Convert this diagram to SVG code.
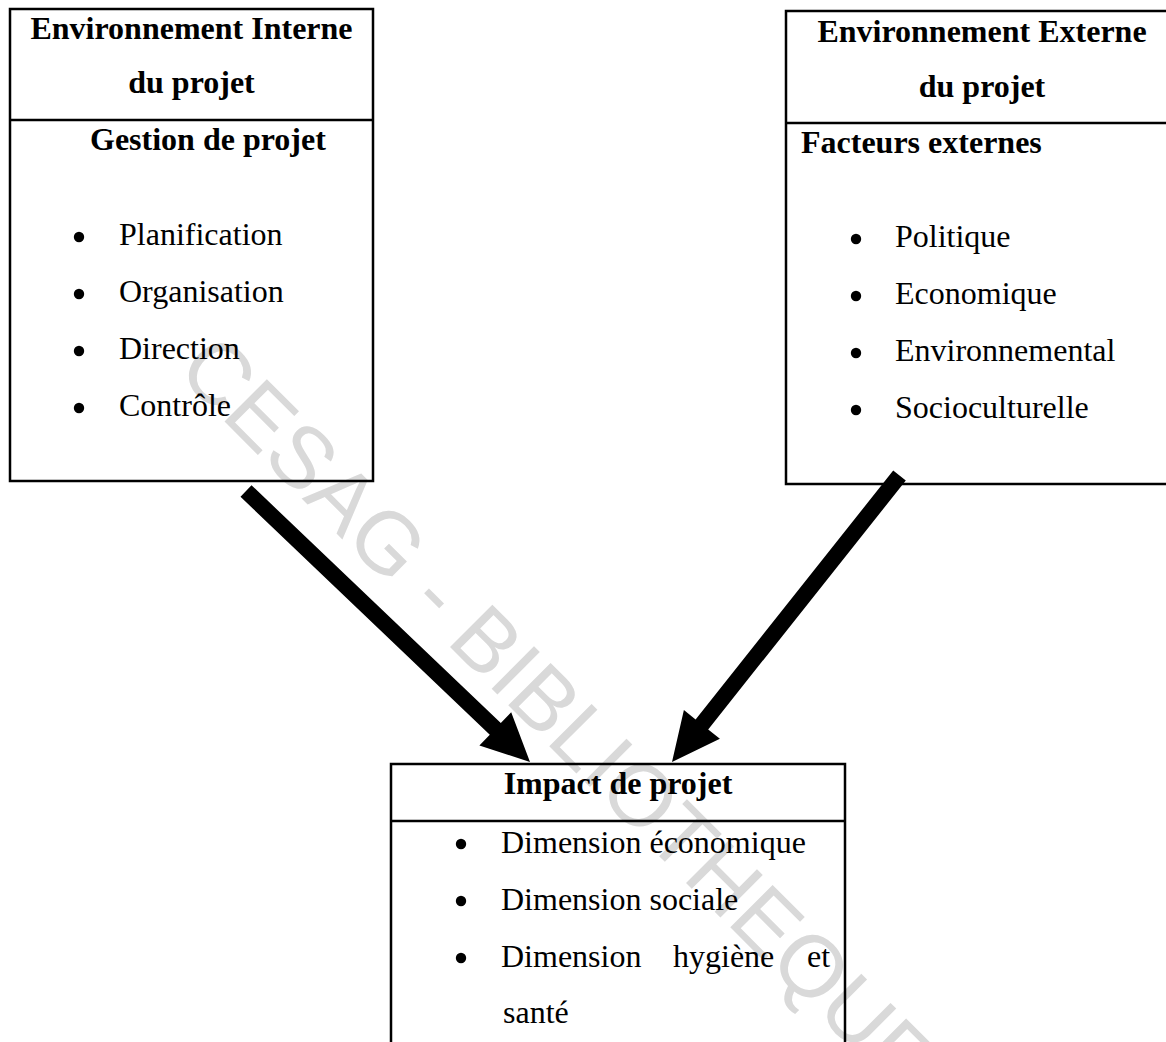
<svg xmlns="http://www.w3.org/2000/svg" width="1166" height="1042" viewBox="0 0 1166 1042">
<style>
.box{fill:none;stroke:#000;stroke-width:2.5}
.b{font-family:"Liberation Serif","Times New Roman",serif;font-size:32px;font-weight:bold;fill:#000}
.r{font-family:"Liberation Serif","Times New Roman",serif;font-size:32px;fill:#000}
.c{text-anchor:middle}
.dot{fill:#000}
.arrow{fill:#000;stroke:none}
.wm{font-family:"Liberation Sans",Arial,sans-serif;font-size:87px;fill:#d9d9d9}
</style>
<rect width="1166" height="1042" fill="#fff"/>
<text class="wm" transform="translate(175,372) rotate(45)">CESAG - BIBLIOTHEQUE</text>
<g id="interne">
<rect class="box" x="10" y="9" width="363" height="472"/>
<line class="box" x1="10" y1="120" x2="373" y2="120"/>
<text class="b c" x="191.5" y="39">Environnement Interne</text>
<text class="b c" x="191.5" y="93">du projet</text>
<text class="b" x="90" y="150">Gestion de projet</text>
<circle class="dot" cx="79" cy="237" r="5.2"/><text class="r" x="119" y="245">Planification</text>
<circle class="dot" cx="79" cy="294" r="5.2"/><text class="r" x="119" y="302">Organisation</text>
<circle class="dot" cx="79" cy="351" r="5.2"/><text class="r" x="119" y="359">Direction</text>
<circle class="dot" cx="79" cy="408" r="5.2"/><text class="r" x="119" y="416">Contrôle</text>
</g>
<g id="externe">
<rect class="box" x="786" y="11" width="400" height="473"/>
<line class="box" x1="786" y1="123" x2="1166" y2="123"/>
<text class="b c" x="982" y="42">Environnement Externe</text>
<text class="b c" x="982" y="97">du projet</text>
<text class="b" x="801" y="153">Facteurs externes</text>
<circle class="dot" cx="856" cy="239" r="5.2"/><text class="r" x="895" y="247">Politique</text>
<circle class="dot" cx="856" cy="296" r="5.2"/><text class="r" x="895" y="304">Economique</text>
<circle class="dot" cx="856" cy="353" r="5.2"/><text class="r" x="895" y="361">Environnemental</text>
<circle class="dot" cx="856" cy="410" r="5.2"/><text class="r" x="895" y="418">Socioculturelle</text>
</g>
<g id="impact">
<rect class="box" x="391" y="764" width="454" height="300"/>
<line class="box" x1="391" y1="821" x2="845" y2="821"/>
<text class="b c" x="618" y="794">Impact de projet</text>
<circle class="dot" cx="461" cy="844" r="5.2"/><text class="r" x="501" y="853">Dimension économique</text>
<circle class="dot" cx="461" cy="901" r="5.2"/><text class="r" x="501" y="910">Dimension sociale</text>
<circle class="dot" cx="461" cy="958" r="5.2"/><text class="r" y="967"><tspan x="501">Dimension</tspan><tspan x="673">hygiène</tspan><tspan x="807">et</tspan></text>
<text class="r" x="503" y="1023">santé</text>
</g>
<g id="connectors">
<polygon class="arrow" points="251.5,485.2 500.8,723.1 511.2,712.3 530,762 479.4,745.5 489.8,734.7 240.5,496.8"/>
<polygon class="arrow" points="893.2,470.5 695.6,719.4 683.9,710.1 672,762 719.9,738.7 708.2,729.4 905.8,480.5"/>
</g>
</svg>
